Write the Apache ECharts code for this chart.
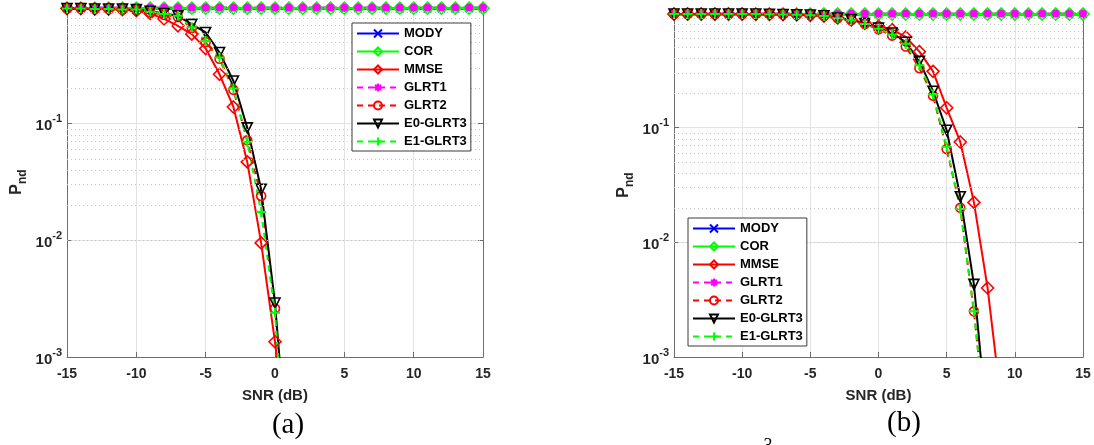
<!DOCTYPE html>
<html>
<head>
<meta charset="utf-8">
<script src="https://cdn.jsdelivr.net/npm/echarts@6/dist/echarts.min.js"></script>
<style>
  html, body { margin: 0; padding: 0; background: #fff; }
  #chart { width: 1094px; height: 445px; }
</style>
</head>
<body>
<div id="chart"></div>
<script>
// SNR grid (dB), shared by both panels
const snr = [-15,-14,-13,-12,-11,-10,-9,-8,-7,-6,-5,-4,-3,-2,-1,0,1,2,3,4,5,6,7,8,9,10,11,12,13,14,15];
const seriesNames = ['MODY', 'COR', 'MMSE', 'GLRT1', 'GLRT2', 'E0-GLRT3', 'E1-GLRT3'];
const xTicks = [-15, -10, -5, 0, 5, 10, 15];
const yDecades = [0.001, 0.01, 0.1, 1];

// Panel (a): probability of non-detection
const modyA = [0.965,0.965,0.965,0.965,0.965,0.965,0.965,0.965,0.965,0.965,0.965,0.965,0.965,0.965,0.965,0.965,0.965,0.965,0.965,0.965,0.965,0.965,0.965,0.965,0.965,0.965,0.965,0.965,0.965,0.965,0.965];
const corA = [0.978,0.978,0.978,0.978,0.978,0.978,0.978,0.978,0.978,0.978,0.978,0.978,0.978,0.978,0.978,0.978,0.978,0.978,0.978,0.978,0.978,0.978,0.978,0.978,0.978,0.978,0.978,0.978,0.978,0.978,0.978];
const mmseA = [0.97,0.97,0.96,0.96,0.95,0.93,0.88,0.79,0.69,0.585,0.44,0.265,0.139,0.047,0.0095,0.00135,0.000135,null,null,null,null,null,null,null,null,null,null,null,null,null,null];
const glrt1A = [0.99,0.99,0.99,0.99,0.99,0.99,0.99,0.99,0.99,0.99,0.99,0.99,0.99,0.99,0.99,0.99,0.99,0.99,0.99,0.99,0.99,0.99,0.99,0.99,0.99,0.99,0.99,0.99,0.99,0.99,0.99];
const glrt2A = [0.97,0.97,0.96,0.96,0.95,0.94,0.9,0.86,0.82,0.66,0.5,0.36,0.195,0.072,0.024,0.0026,0.00005,null,null,null,null,null,null,null,null,null,null,null,null,null,null];
const e0A = [0.97,0.97,0.96,0.96,0.96,0.95,0.92,0.88,0.84,0.71,0.605,0.407,0.232,0.092,0.0274,0.0029,0.0001,null,null,null,null,null,null,null,null,null,null,null,null,null,null];
const e1A = [0.97,0.97,0.96,0.96,0.95,0.95,0.91,0.87,0.84,0.67,0.51,0.37,0.2,0.07,0.0175,0.0024,0.000045,null,null,null,null,null,null,null,null,null,null,null,null,null,null];

// Panel (b)
const modyB = [0.97,0.97,0.97,0.97,0.97,0.97,0.97,0.97,0.97,0.97,0.97,0.97,0.97,0.97,0.97,0.97,0.97,0.97,0.97,0.97,0.97,0.97,0.97,0.97,0.97,0.97,0.97,0.97,0.97,0.97,0.97];
const corB = [0.98,0.98,0.98,0.98,0.98,0.98,0.98,0.98,0.98,0.98,0.98,0.98,0.98,0.98,0.98,0.98,0.98,0.98,0.98,0.98,0.98,0.98,0.98,0.98,0.98,0.98,0.98,0.98,0.98,0.98,0.98];
const mmseB = [0.98,0.98,0.98,0.98,0.98,0.98,0.975,0.975,0.97,0.965,0.955,0.94,0.91,0.87,0.82,0.765,0.716,0.618,0.46,0.31,0.149,0.075,0.0223,0.004,0.0004,null,null,null,null,null,null];
const glrt1B = [0.99,0.99,0.99,0.99,0.99,0.99,0.99,0.99,0.99,0.99,0.99,0.99,0.99,0.99,0.99,0.99,0.99,0.99,0.99,0.99,0.99,0.99,0.99,0.99,0.99,0.99,0.99,0.99,0.99,0.99,0.99];
const glrt2B = [0.98,0.98,0.98,0.98,0.98,0.98,0.98,0.975,0.97,0.965,0.955,0.94,0.9,0.865,0.8,0.72,0.635,0.51,0.33,0.19,0.065,0.02,0.0025,0.00018,null,null,null,null,null,null,null];
const e0B = [0.98,0.98,0.98,0.98,0.98,0.98,0.98,0.975,0.97,0.965,0.96,0.945,0.905,0.875,0.81,0.74,0.67,0.555,0.38,0.208,0.095,0.025,0.0043,0.00023,null,null,null,null,null,null,null];
const e1B = [0.98,0.98,0.98,0.98,0.98,0.98,0.98,0.975,0.97,0.965,0.955,0.94,0.9,0.865,0.8,0.73,0.65,0.54,0.35,0.195,0.068,0.0195,0.0025,0.00018,null,null,null,null,null,null,null];

const FONT = '"Liberation Sans", Arial, Helvetica, sans-serif';
const SERIF = '"Liberation Serif", "Times New Roman", serif';
const AX = '#262626';

// Marker shapes
const X_MARK = 'path://M0,0L10,10M10,0L0,10';
const PLUS_MARK = 'path://M5,0L5,10M0,5L10,5';
const STAR_MARK = 'path://M5,0L5,10M0,5L10,5M1.5,1.5L8.5,8.5M8.5,1.5L1.5,8.5';

const styles = {
  'MODY':     { color: '#0000ff', symbol: X_MARK,     size: 7,  dash: 'solid', fill: '#0000ff', bw: 1.6 },
  'COR':      { color: '#00ff00', symbol: 'diamond',  size: 12, dash: 'solid', fill: 'rgba(0,0,0,0)', bw: 1.6 },
  'MMSE':     { color: '#ff0000', symbol: 'diamond',  size: 12, dash: 'solid', fill: 'rgba(0,0,0,0)', bw: 1.6 },
  'GLRT1':    { color: '#ff00ff', symbol: STAR_MARK,  size: 8,  dash: [6, 5],  fill: '#ff00ff', bw: 2.6 },
  'GLRT2':    { color: '#ff0000', symbol: 'circle',   size: 9,  dash: [6, 5],  fill: 'rgba(0,0,0,0)', bw: 1.6 },
  'E0-GLRT3': { color: '#000000', symbol: 'triangle', size: 10, dash: 'solid', fill: 'rgba(0,0,0,0)', bw: 1.6, rotate: 180 },
  'E1-GLRT3': { color: '#00ff00', symbol: PLUS_MARK,  size: 10, dash: [6, 5],  fill: '#00ff00', bw: 2 }
};

// Minor log grid values (2..9 within each decade)
const minorVals = [];
for (const d of [0.001, 0.01, 0.1]) {
  for (let k = 2; k <= 9; k++) minorVals.push(+(k * d).toPrecision(3));
}

function pairs(values) {
  const out = [];
  values.forEach((v, i) => { if (v !== null) out.push([snr[i], v]); });
  return out;
}

function makeSeries(name, values, xi, yi, withMinorGrid) {
  const st = styles[name];
  const s = {
    name: name,
    type: 'line',
    xAxisIndex: xi,
    yAxisIndex: yi,
    data: pairs(values),
    symbol: st.symbol,
    symbolSize: st.size,
    symbolRotate: st.rotate || 0,
    showAllSymbol: true,
    clip: true,
    lineStyle: { color: st.color, width: 2, type: st.dash },
    itemStyle: { color: st.fill, borderColor: st.color, borderWidth: st.bw },
    emphasis: { disabled: true },
    z: 3
  };
  if (withMinorGrid) {
    s.markLine = {
      silent: true,
      symbol: ['none', 'none'],
      label: { show: false },
      lineStyle: { type: [1, 3], color: '#c4c4c4', width: 1 },
      emphasis: { disabled: true },
      data: minorVals.map(v => ({ yAxis: v }))
    };
  }
  return s;
}

function yLabel(v) {
  if (Math.abs(v - 1) < 1e-9) return '';
  const e = Math.round(Math.log10(v));
  return '{b|10}{s|' + e + '}';
}

const yRich = {
  b: { fontSize: 15, fontWeight: 'bold', fontFamily: FONT, color: AX, lineHeight: 20, verticalAlign: 'bottom' },
  s: { fontSize: 11, fontWeight: 'bold', fontFamily: FONT, color: AX, lineHeight: 11, verticalAlign: 'top' }
};

function xAxisMain(gi) {
  return {
    type: 'value', gridIndex: gi, position: 'bottom',
    min: -15, max: 15, interval: 5,
    name: 'SNR (dB)', nameLocation: 'middle', nameGap: 31,
    nameTextStyle: { fontFamily: FONT, fontWeight: 'bold', fontSize: 15, color: AX },
    axisLine: { show: true, onZero: false, lineStyle: { color: '#6e6e6e', width: 1 } },
    axisTick: { show: true, inside: true, length: 5, lineStyle: { color: '#6e6e6e' } },
    axisLabel: { fontFamily: FONT, fontWeight: 'bold', fontSize: 14, color: AX, margin: 10 },
    splitLine: { show: true, lineStyle: { color: '#e3e3e3', width: 1 } }
  };
}
function xAxisTop(gi) {
  return {
    type: 'value', gridIndex: gi, position: 'top',
    min: -15, max: 15, interval: 5,
    axisLine: { show: true, onZero: false, lineStyle: { color: '#6e6e6e', width: 1 } },
    axisTick: { show: true, inside: true, length: 5, lineStyle: { color: '#6e6e6e' } },
    axisLabel: { show: false },
    splitLine: { show: false }
  };
}
function yAxisMain(gi) {
  return {
    type: 'log', logBase: 10, gridIndex: gi, position: 'left',
    min: 0.001, max: 1,
    name: '{p|P}{s|nd}', nameLocation: 'middle', nameGap: 38, nameRotate: 90,
    nameTextStyle: {
      rich: {
        p: { fontFamily: FONT, fontWeight: 'bold', fontSize: 16, color: AX, lineHeight: 24 },
        s: { fontFamily: FONT, fontWeight: 'bold', fontSize: 12, color: AX, lineHeight: 12, verticalAlign: 'bottom' }
      }
    },
    axisLine: { show: true, onZero: false, lineStyle: { color: '#6e6e6e', width: 1 } },
    axisTick: { show: true, inside: true, length: 5, lineStyle: { color: '#6e6e6e' } },
    axisLabel: { formatter: yLabel, rich: yRich, margin: 5 },
    splitLine: { show: true, lineStyle: { color: '#e3e3e3', width: 1 } }
  };
}
function yAxisRight(gi) {
  return {
    type: 'log', logBase: 10, gridIndex: gi, position: 'right',
    min: 0.001, max: 1,
    axisLine: { show: true, onZero: false, lineStyle: { color: '#6e6e6e', width: 1 } },
    axisTick: { show: true, inside: true, length: 5, lineStyle: { color: '#6e6e6e' } },
    axisLabel: { show: false },
    splitLine: { show: false }
  };
}

function legendAt(left, top) {
  return {
    orient: 'vertical', left: left, top: top,
    data: seriesNames,
    itemWidth: 42, itemHeight: 10, itemGap: 5,
    padding: [4, 4, 3, 4],
    backgroundColor: '#ffffff',
    borderColor: '#3a3a3a', borderWidth: 1,
    textStyle: { fontFamily: FONT, fontWeight: 'bold', fontSize: 13, color: '#000' },
    selectedMode: false,
    z: 10
  };
}

const panelA = [modyA, corA, mmseA, glrt1A, glrt2A, e0A, e1A];
const panelB = [modyB, corB, mmseB, glrt1B, glrt2B, e0B, e1B];

const series = [];
seriesNames.forEach((n, i) => series.push(makeSeries(n, panelA[i], 0, 0, i === 0)));
seriesNames.forEach((n, i) => series.push(makeSeries(n, panelB[i], 2, 2, i === 0)));

const option = {
  animation: false,
  backgroundColor: '#ffffff',
  grid: [
    { left: 67, top: 7, right: 611, bottom: 88, containLabel: false },
    { left: 674, top: 13, right: 11, bottom: 88, containLabel: false }
  ],
  xAxis: [xAxisMain(0), xAxisTop(0), xAxisMain(1), xAxisTop(1)],
  yAxis: [yAxisMain(0), yAxisRight(0), yAxisMain(1), yAxisRight(1)],
  legend: [legendAt(352, 23), legendAt(688, 218)],
  graphic: [
    { type: 'text', x: 288, y: 425, style: { text: '(a)', font: '29px ' + SERIF, fill: '#000', textAlign: 'center', textVerticalAlign: 'middle' } },
    { type: 'text', x: 904, y: 423, style: { text: '(b)', font: '29px ' + SERIF, fill: '#000', textAlign: 'center', textVerticalAlign: 'middle' } },
    { type: 'text', x: 768, y: 437, style: { text: '3', font: '18px ' + SERIF, fill: '#000', textAlign: 'center', textVerticalAlign: 'top' } }
  ],
  series: series
};

const chart = echarts.init(document.getElementById('chart'), null, { renderer: 'canvas' });
chart.setOption(option);
</script>
</body>
</html>
